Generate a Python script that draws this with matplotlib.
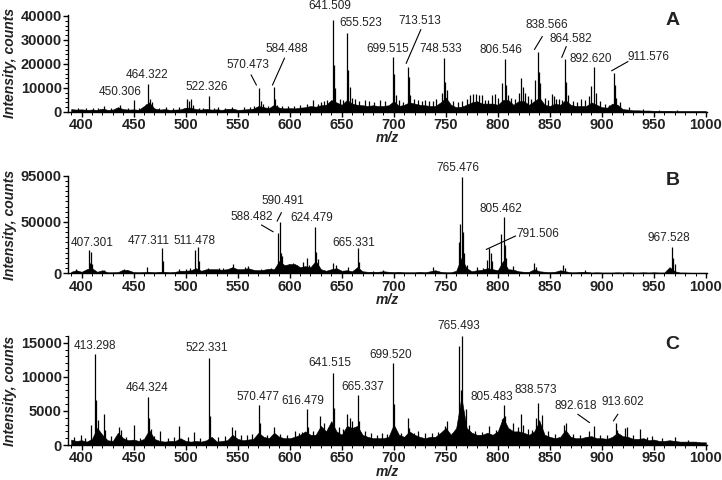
import matplotlib.pyplot as plt
from matplotlib.ticker import MultipleLocator

plt.rcParams['font.family'] = ['Liberation Sans', 'DejaVu Sans']

# m/z grid for the noise floor (every 5)
mz_grid = list(range(390, 1001, 5))

# ---- panel A ----
base_a = [1200, 1000, 1100, 900, 1000, 900, 1400, 900, 1000, 2000,
          1200, 1000, 1100, 900, 2500, 4000, 1500, 1000, 1200, 900,
          1000, 1100, 1800, 1800, 1200, 1000, 1300, 1000, 1100, 900,
          1300, 1400, 900, 1000, 1200, 1400, 2500, 2000, 1600, 3000,
          1800, 1500, 1600, 1500, 1800, 2000, 2500, 2200, 2800, 3000,
          5000, 4000, 3000, 5000, 3500, 3000, 2800, 2500, 2800, 2500,
          2500, 2800, 4500, 2500, 3000, 4000, 3500, 3000, 2800, 2500,
          2500, 4000, 6000, 3000, 2000, 2200, 3000, 4000, 4500, 3500,
          3500, 3500, 3000, 5000, 5000, 3000, 4500, 4500, 3000, 4500,
          6000, 3000, 2500, 3500, 3000, 5000, 3000, 2500, 2500, 2500,
          4000, 3000, 2000, 1800, 3500, 3000, 1200, 1000, 700, 700,
          600, 600, 500, 500, 500, 500, 400, 400, 400, 400,
          400, 400, 400]
peak_mz_a = [397, 404, 411, 416, 422, 428, 437, 445, 450.3, 455, 462, 464.3, 466, 468,
             474, 481, 488, 494, 501, 503, 505, 507, 513, 517, 522.3, 527, 531, 538, 545,
             556, 562, 566, 570.5, 572, 574, 579, 584.5, 586, 588, 593, 598, 604,
             610, 617, 622, 627, 630, 633, 636, 641.5, 642.5, 644, 648, 651,
             655.5, 656.5, 658, 660, 663, 667, 672, 676, 681, 687, 692, 699.5, 700.5,
             702, 705, 709, 713.5, 714.5, 716, 719, 723, 727, 730, 734, 738, 741,
             746, 748.5, 749.5, 751, 757, 762, 766, 770, 773,
             776, 779, 782, 785, 788, 791, 794, 797, 800, 804, 806.5, 808, 810, 813,
             817, 820, 822, 824, 826, 829, 832, 836, 838.6, 839.5, 841, 845, 848,
             852, 854, 856, 859, 862, 864.6, 865.5, 867, 872, 876, 880, 884,
             888, 890, 892.6, 894, 898, 903, 907, 911.6, 912.5, 914, 917, 926, 940,
             955, 972]
peak_int_a = [1800, 1600, 1500, 1700, 2500, 1800, 2900, 1600, 5200, 1800, 3500, 11500, 5500, 4000,
              1700, 2000, 1600, 1900, 5400, 4500, 5300, 3000, 1800, 1600, 6700, 1700, 2000, 1800, 2200,
              1900, 2200, 2500, 9800, 4500, 3500, 2600, 10300, 5500, 3000, 2600, 2300, 2500,
              3000, 3500, 5000, 3500, 4000, 4500, 5000, 38300, 19500, 10000, 5500, 5000,
              32900, 17500, 10500, 6000, 5500, 4500, 5000, 4500, 4000, 5000, 4500, 22800, 16000,
              7000, 5000, 4000, 18900, 14500, 7000, 5500, 5000, 4500, 5000, 4500, 4500, 5500,
              8000, 22400, 12600, 9000, 4500, 4000, 4500, 5500, 7000,
              7500, 7500, 7000, 7000, 5000, 5000, 7000, 7500, 6000, 12000, 21900, 11200, 7000, 6000,
              5500, 8000, 14000, 10500, 8000, 6500, 5500, 13500, 25100, 16800, 12000, 6000, 5000,
              7500, 6500, 5500, 5500, 5000, 21900, 12600, 7000, 4500, 4000, 5500, 5000,
              6500, 11000, 18900, 8000, 4500, 3500, 3000, 16400, 11300, 6000, 4000, 2000, 1300,
              1000, 900]
labels_a = [450.306, 464.322, 522.326, 570.473, 584.488, 641.509, 655.523,
            699.515, 713.513, 748.533, 806.546, 838.566, 864.582, 892.620, 911.576]

# ---- panel B ----
base_b = [1500, 3000, 1500, 4000, 5000, 1500, 3000, 1000, 1000, 1200,
          3500, 3000, 1200, 1000, 1200, 1500, 1000, 1500, 1500, 1000,
          1500, 2500, 2500, 3000, 5000, 2500, 4000, 4000, 4000, 3500,
          4000, 6000, 4000, 4000, 5000, 3500, 3000, 3500, 4500, 4000,
          12000, 8000, 9000, 9000, 6000, 7000, 6000, 12000, 4000, 2500,
          4000, 5000, 2500, 3000, 2000, 6000, 2000, 1500, 1500, 1500,
          2000, 1500, 1200, 1500, 1000, 1000, 1000, 1500, 1000, 2000,
          3000, 1500, 1000, 1000, 2500, 15000, 5000, 2000, 3000, 3500,
          5000, 4000, 3000, 12000, 4000, 3500, 2000, 1500, 1500, 4000,
          2000, 1500, 1200, 1500, 3000, 2000, 1000, 1000, 1500, 1500,
          800, 1000, 800, 800, 800, 1000, 800, 1000, 800, 800,
          1000, 800, 1000, 800, 800, 6000, 2000, 800, 800, 600,
          600, 600, 600]
peak_mz_b = [395, 407.3, 408, 409, 410, 422, 441, 444, 463, 477.3, 478.3, 494, 500,
             504, 509, 511.5, 512.5, 522, 532, 536, 546, 557, 560, 572, 582, 588.5,
             590.5, 591.5, 593, 599, 603, 607, 613, 617, 619, 624.5, 625.5, 627, 642,
             645, 656, 665.3, 666.3, 680, 690, 738, 763, 764, 765.5, 766.5, 768, 770,
             780, 786, 790, 791.5, 793, 794, 803, 805.5, 806.5, 808, 815, 835, 837,
             863, 865, 884, 967.5, 968.5, 970]
peak_int_b = [4000, 22500, 10000, 20500, 9500, 3500, 4000, 3500, 6000, 25000, 12000, 4000, 4500,
              5500, 22500, 26000, 12000, 5000, 5500, 5500, 9500, 6000, 7000, 4500, 5500, 39500,
              50200, 19500, 17000, 9000, 10000, 8000, 11000, 14500, 8000, 45400, 21000, 14000, 10000,
              8000, 6000, 25000, 11000, 2500, 3000, 6500, 30000, 48000, 94000, 40000, 20000, 8000,
              6000, 5000, 13000, 25000, 20000, 12000, 38500, 55100, 28000, 15000, 7500, 10000, 6000,
              8500, 5000, 3000, 26000, 15000, 9000]
labels_b = [407.301, 477.311, 511.478, 588.482, 590.491, 624.479, 665.331,
            765.476, 791.506, 805.462, 967.528]

# ---- panel C ----
base_c = [800, 600, 700, 500, 900, 2500, 1500, 700, 600, 1800,
          1000, 700, 800, 600, 900, 2200, 900, 600, 500, 600,
          600, 1000, 600, 500, 600, 500, 700, 1200, 500, 600,
          700, 1500, 900, 700, 800, 900, 1800, 1200, 1000, 1800,
          1200, 1000, 1000, 1200, 1500, 2000, 1500, 1500, 2800, 2000,
          3500, 2000, 1500, 2800, 2500, 2800, 1500, 1200, 1000, 1000,
          1000, 1200, 3000, 1500, 1200, 2000, 1500, 1200, 1000, 1200,
          1200, 1800, 2500, 1500, 2500, 7000, 2500, 1800, 1500, 1500,
          1800, 1500, 2000, 4000, 2500, 2000, 2000, 1800, 1500, 2000,
          3500, 1500, 1200, 1000, 1200, 2200, 1200, 1000, 1000, 1200,
          1300, 1000, 1000, 900, 1200, 1800, 1300, 1200, 900, 900,
          1000, 700, 800, 600, 600, 700, 600, 500, 500, 500,
          500, 400, 400]
peak_mz_c = [393, 399, 403, 409, 413.3, 414, 415.5, 421.5, 422.5, 428, 436, 437.5, 443, 450,
             456, 464.3, 465.3, 466.5, 470, 475.5, 483, 489, 494, 502, 508, 514, 522.3,
             523.3, 531, 538, 545, 547, 553, 559, 564, 570.5, 571.5, 578, 585, 591, 597,
             605, 609, 612, 616.5, 617.5, 622, 629, 633, 637, 641.5, 642.5, 647, 651, 655,
             658, 660, 665.3, 666.3, 672, 678, 684, 689, 694, 699.5, 700.5, 707, 713.5,
             714.5, 719, 723, 730, 737, 743, 749, 751, 756, 763, 764.5, 765.5, 767, 769,
             772, 778, 785, 792, 798, 804, 805.5, 807, 811, 815, 819, 822, 824, 829, 833,
             837, 838.6, 840, 842, 848, 855, 864, 866, 872, 879, 888, 892.6, 898, 905, 913.6,
             914.5, 922, 924, 930, 937, 943, 948, 958, 970, 983]
peak_int_c = [1200, 1500, 1100, 2900, 13300, 6600, 3700, 4500, 2200, 1300, 2700, 2200, 1200, 3000,
              1100, 7100, 4000, 2300, 1300, 2100, 1100, 1200, 2800, 1200, 1900, 1100, 12800,
              4200, 1200, 1300, 2700, 2200, 1400, 1500, 1600, 5800, 3200, 1500, 2700, 1600, 1500,
              2000, 1800, 1900, 5300, 2700, 2000, 4200, 3200, 2500, 10600, 5500, 2600, 2400, 4500,
              3900, 3500, 7300, 3500, 2000, 1700, 1500, 1800, 1600, 12000, 6000, 1700, 3900,
              2500, 1800, 2000, 1800, 1700, 1900, 2800, 3500, 1800, 14500, 8000, 16000, 5000, 5300,
              3000, 2000, 1900, 2800, 2200, 3800, 5800, 4300, 2300, 3200, 2600, 4600, 3000, 2400, 2200,
              4000, 6100, 3700, 4400, 2000, 1600, 3000, 3300, 1600, 1500, 2000, 2800, 1500, 1400, 3200,
              2200, 2500, 2600, 1400, 2300, 1200, 1300, 1000, 1200, 800]
labels_c = [413.298, 464.324, 522.331, 570.477, 616.479, 641.515, 665.337,
            699.520, 765.493, 805.483, 838.573, 892.618, 913.602]

# ---- layout: label positions (x, bottom y) and leader lines ----
pos_a = {450.306: (437, 6000), 464.322: (463, 12900), 522.326: (520, 7800),
         570.473: (560, 17100), 584.488: (597, 23700), 641.509: (639, 41800),
         655.523: (668, 34400), 699.515: (694, 23700), 713.513: (725, 35300),
         748.533: (745, 23700), 806.546: (803, 23300), 838.566: (847, 33900),
         864.582: (870, 27900), 892.620: (889, 19600), 911.576: (945, 20300)}
lead_a = {570.473: ((568, 563), (11250, 15400)), 584.488: ((583.5, 595), (11250, 22400)),
          713.513: ((712, 726), (20300, 34300)), 838.566: ((835.3, 842.7), (26100, 31400)),
          864.582: ((861.5, 865.7), (22800, 27200)), 911.576: ((909.5, 925), (17200, 21000))}
pos_b = {407.301: (410, 23600), 477.311: (465, 25300), 511.478: (509, 25300),
         588.482: (564, 48600), 590.491: (593, 64800), 624.479: (621, 48000),
         665.331: (662, 23600), 765.476: (762, 96500), 805.462: (803, 56700),
         791.506: (838, 32400), 967.528: (964, 28200)}
lead_b = {588.482: ((584, 573), (40500, 47000)), 590.491: ((588, 592), (50900, 59000)),
          791.506: ((789, 817), (23300, 36300))}
pos_c = {413.298: (413, 13650), 464.324: (463, 7550), 522.331: (520, 13300),
         570.477: (570, 6200), 616.479: (613, 5600), 641.515: (639, 11100),
         665.337: (670, 7650), 699.520: (697, 12350), 765.493: (762.5, 16500),
         805.483: (794.5, 6200), 838.573: (836.5, 7150), 892.618: (875, 4880),
         913.602: (920.5, 5500)}
lead_c = {892.618: ((888, 877), (3300, 4500)), 913.602: ((911.2, 915.3), (3550, 4500))}

panels = [
    ('A', base_a, peak_mz_a, peak_int_a, labels_a, pos_a, lead_a,
     [0.0942, 0.7667, 0.8857, 0.2025], 40500, [0, 10000, 20000, 30000, 40000], 2000, 38300),
    ('B', base_b, peak_mz_b, peak_int_b, labels_b, pos_b, lead_b,
     [0.0942, 0.4306, 0.8857, 0.2033], 95000, [0, 50000, 95000], 5000, 90800),
    ('C', base_c, peak_mz_c, peak_int_c, labels_c, pos_c, lead_c,
     [0.0942, 0.0729, 0.8857, 0.2273], 16000, [0, 5000, 10000, 15000], 1000, 14800),
]

txt = '#222222'
fig = plt.figure(figsize=(7.22, 4.8), dpi=100)

for letter, base, pmz, pint, labs, pos, lead, rect, ytop, yticks, yminor, ly in panels:
    ax = fig.add_axes(rect)
    ax.fill_between(mz_grid, 0, base, color='black', lw=0.4)
    ax.vlines(pmz, 0, pint, color='black', lw=0.9)
    for lab in labs:
        x, y = pos[lab]
        ax.text(x, y, '{:.3f}'.format(lab), ha='center', va='bottom', fontsize=8.5,
                color=txt, clip_on=False)
    for lab, (xs, ys) in lead.items():
        ax.plot(xs, ys, color='black', lw=0.8, clip_on=False)
    ax.text(968, ly, letter, ha='center', va='center', fontsize=14, fontweight='bold', color=txt)

    ax.set_xlim(387, 1001.5)
    ax.set_ylim(0, ytop)
    ax.set_xticks(range(400, 1001, 50))
    ax.xaxis.set_minor_locator(MultipleLocator(10))
    ax.set_yticks(yticks)
    ax.yaxis.set_minor_locator(MultipleLocator(yminor))
    for s in ['top', 'right']:
        ax.spines[s].set_visible(False)
    for s in ['left', 'bottom']:
        ax.spines[s].set_linewidth(1.0)
    ax.tick_params(which='major', length=3.5, width=1, pad=1.0, labelsize=10.5, labelcolor=txt)
    ax.tick_params(which='minor', length=2, width=0.7)
    for t in ax.get_xticklabels() + ax.get_yticklabels():
        t.set_fontweight('bold')
    ax.set_ylabel('Intensity, counts', fontsize=10, fontweight='bold', style='italic', color=txt)
    ax.yaxis.set_label_coords(-0.080, 0.5)
    hpx = rect[3] * 480
    ax.text(0.5, -19.5 / hpx, 'm/z', transform=ax.transAxes, ha='center', va='top',
            fontsize=10, fontweight='bold', style='italic', color=txt)

fig.savefig('out.png', dpi=100)
